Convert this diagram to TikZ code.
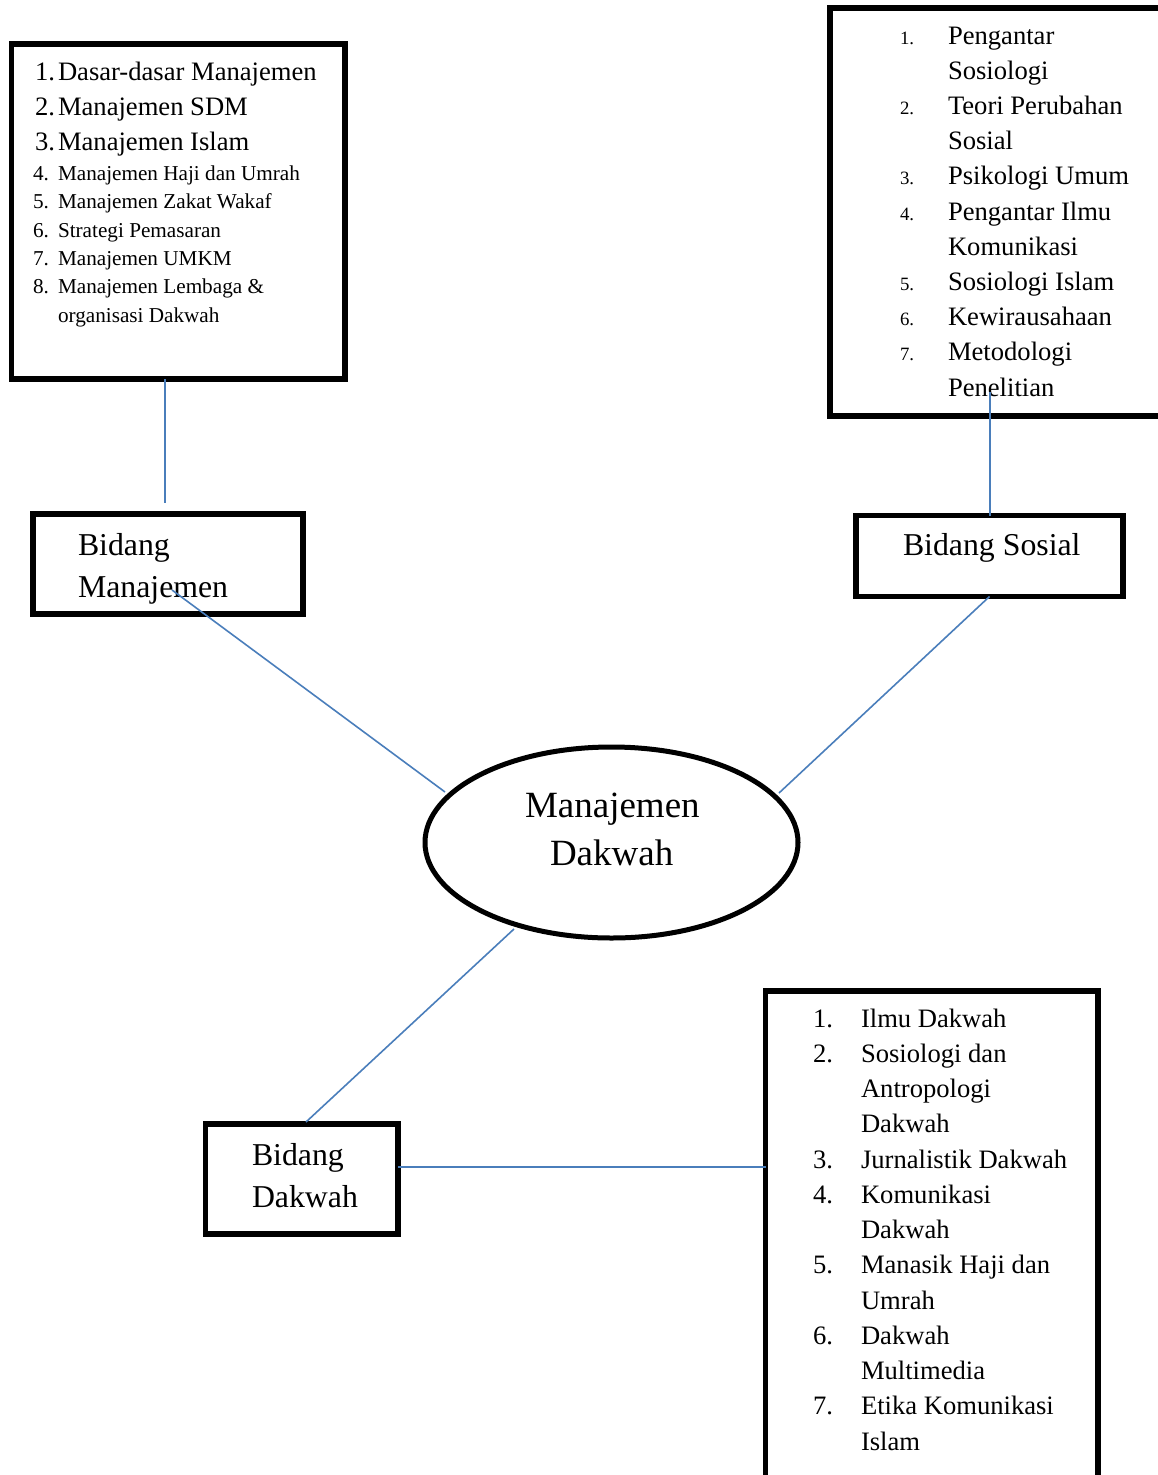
\documentclass[tikz,border=0pt]{standalone}
\usepackage{fontspec}
\setmainfont{Liberation Serif}
\usetikzlibrary{shapes.geometric}
\definecolor{conn}{RGB}{74,126,187}
\newcommand\ftxt{\fontsize{26.6}{30}\selectfont}
\newcommand\fsml{\fontsize{21.2}{24}\selectfont}
\newcommand\fnumb{\fontsize{18.8}{22}\selectfont}
\newcommand\fbid{\fontsize{31.8}{36}\selectfont}
\newcommand\fell{\fontsize{37}{42}\selectfont}
\begin{document}
\begin{tikzpicture}[x=1pt,y=-1pt,
  box/.style={draw, line width=5.5pt, rectangle, inner sep=0pt, outer sep=0pt, fill=none},
  txt/.style={anchor=base west, inner sep=0pt, outer sep=0pt, font=\ftxt},
  sml/.style={anchor=base west, inner sep=0pt, outer sep=0pt, font=\fsml},
  numb/.style={anchor=base west, inner sep=0pt, outer sep=0pt, font=\fnumb},
  bid/.style={anchor=base west, inner sep=0pt, outer sep=0pt, font=\fbid},
  ell/.style={anchor=base west, inner sep=0pt, outer sep=0pt, font=\fell},
  link/.style={draw=conn, line width=1.6pt}]
\useasboundingbox (0,0) rectangle (1158,1475);
\clip (0,0) rectangle (1158,1475);
\fill[white] (0,0) rectangle (1158,1475);

% boxes
\node[box, minimum width=333.5pt, minimum height=335pt] (boxA) at (178.25,211.5) {};
\node[box, minimum width=340pt, minimum height=408pt] (boxB) at (1000,212) {};
\node[box, minimum width=270pt, minimum height=100pt] (bm) at (168,564) {};
\node[box, minimum width=267pt, minimum height=81pt] (bs) at (989.5,556) {};
\node[box, minimum width=192.5pt, minimum height=110pt] (bd) at (301.75,1179) {};
\node[box, minimum width=332.5pt, minimum height=499pt] (boxC) at (931.75,1240.5) {};
\node[draw, ellipse, line width=5pt, minimum width=373pt, minimum height=191pt, inner sep=0pt, outer sep=0pt] (ell) at (611.5,842.5) {};

% connector coordinates
\coordinate (c1) at (165,503);
\coordinate (c2) at (172,590);
\coordinate (e1) at (445,792);
\coordinate (c3) at (990,392);
\coordinate (e2) at (779,793);
\coordinate (e3) at (514,929);
\coordinate (c4) at (306,1122);
\coordinate (lc) at (0,1167);

% box A text
\node[txt] (a1n) at (35,80) {1.};  \node[txt] (a1) at (58,80) {Dasar-dasar Manajemen};
\node[txt] (a2n) at (35,115) {2.}; \node[txt] (a2) at (58,115) {Manajemen SDM};
\node[txt] (a3n) at (35,150) {3.}; \node[txt] (a3) at (58,150) {Manajemen Islam};
\node[sml] (a4n) at (33,180) {4.}; \node[sml] (a4) at (58,180) {Manajemen Haji dan Umrah};
\node[sml] (a5n) at (33,208) {5.}; \node[sml] (a5) at (58,208) {Manajemen Zakat Wakaf};
\node[sml] (a6n) at (33,237) {6.}; \node[sml] (a6) at (58,237) {Strategi Pemasaran};
\node[sml] (a7n) at (33,265) {7.}; \node[sml] (a7) at (58,265) {Manajemen UMKM};
\node[sml] (a8n) at (33,293) {8.}; \node[sml] (a8) at (58,293) {Manajemen Lembaga \&};
\node[sml] (a9) at (58,322) {organisasi Dakwah};

% box B text
\foreach \k/\t in {0/Pengantar,1/Sosiologi,2/Teori Perubahan,3/Sosial,4/Psikologi Umum,5/Pengantar Ilmu,6/Komunikasi,7/Sosiologi Islam,8/Kewirausahaan,9/Metodologi,10/Penelitian}
  \node[txt] (b\k) at (948,44+35.2*\k) {\t};
\foreach \k/\n in {0/1,2/2,4/3,5/4,7/5,8/6,9/7}
  \node[numb] (bn\k) at (900,44+35.2*\k) {\n.};

% box C text
\foreach \k/\t in {0/Ilmu Dakwah,1/Sosiologi dan,2/Antropologi,3/Dakwah,4/Jurnalistik Dakwah,5/Komunikasi,6/Dakwah,7/Manasik Haji dan,8/Umrah,9/Dakwah,10/Multimedia,11/Etika Komunikasi,12/Islam}
  \node[txt] (t\k) at (861,1027+35.25*\k) {\t};
\foreach \k/\n in {0/1,1/2,4/3,5/4,7/5,9/6,11/7}
  \node[txt] (tn\k) at (813,1027+35.25*\k) {\n.};

% bidang labels
\node[bid] (bm1) at (78,555) {Bidang};
\node[bid] (bm2) at (78,597) {Manajemen};
\node[bid] (bs1) at (903,555) {Bidang Sosial};
\node[bid] (bd1) at (252,1165) {Bidang};
\node[bid] (bd2) at (252,1207) {Dakwah};
\node[ell] (el1) at (525,817) {Manajemen};
\node[ell] (el2) at (550,865) {Dakwah};

% connectors
\draw[link] (boxA.south -| c1) -- (c1);
\draw[link] (c2) -- (e1);
\draw[link] (c3) -- (bs.north -| c3);
\draw[link] (bs.south) -- (e2);
\draw[link] (e3) -- (c4);
\draw[link] (bd.east |- lc) -- (boxC.west |- lc);
\end{tikzpicture}
\end{document}
